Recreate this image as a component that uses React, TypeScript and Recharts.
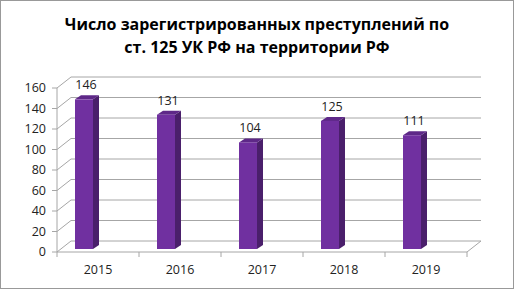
import React from 'react';
import { BarChart, Bar, XAxis, YAxis, CartesianGrid, LabelList } from 'recharts';

const years = ['2015', '2016', '2017', '2018', '2019'];
const crimes = [146, 131, 104, 125, 111];
const yTicks = [0, 20, 40, 60, 80, 100, 120, 140, 160];

const data = years.map((year, i) => ({ year, value: crimes[i] }));

const FONT = '"Open Sans", sans-serif';
const GRID = '#a6a6a6';
// 3d look: back wall offset and bar depth
const WALL_DX = 14;
const WALL_DY = -11;
const BAR_DX = 6;
const BAR_DY = -4;
const BAR_LIFT = 3;
const BAR_SHIFT = -14;

const GridLine = (props: any) => {
  const { x1, y1, x2, index } = props;
  const bx1 = x1 + WALL_DX;
  const bx2 = x2 + WALL_DX;
  const by = y1 + WALL_DY;
  return (
    <g key={`g-${index}`}>
      <line x1={x1} y1={y1} x2={bx1} y2={by} stroke={GRID} />
      <line x1={bx1} y1={by} x2={bx2} y2={by} stroke={GRID} />
      {index === 0 && <line x1={x2} y1={y1} x2={bx2} y2={by} stroke={GRID} />}
    </g>
  );
};

const Column3D = (props: any) => {
  const { x, y, width, height } = props;
  const l = x + BAR_SHIFT;
  const r = l + width;
  const t = y - BAR_LIFT;
  const b = t + height;
  return (
    <g>
      <polygon points={`${r},${t} ${r + BAR_DX},${t + BAR_DY} ${r + BAR_DX},${b + BAR_DY} ${r},${b}`} fill="#4a1f6b" />
      <polygon points={`${l},${t} ${l + BAR_DX},${t + BAR_DY} ${r + BAR_DX},${t + BAR_DY} ${r},${t}`} fill="#5e2888" />
      <rect x={l} y={t} width={width} height={height} fill="#7030a0" />
    </g>
  );
};

const YearTick = (props: any) => {
  const { x, y, payload, index } = props;
  const half = payload && payload.offset ? payload.offset : 41;
  return (
    <g>
      <line x1={x - half} y1={y} x2={x - half} y2={y + 5} stroke={GRID} />
      {index === years.length - 1 && <line x1={x + half} y1={y} x2={x + half} y2={y + 5} stroke={GRID} />}
      <text x={x} y={y + 22} textAnchor="middle" fontSize={12.5} fontFamily={FONT} fill="#222">
        {payload.value}
      </text>
    </g>
  );
};

const ValueLabel = (props: any) => {
  const { x, y, width, value } = props;
  return (
    <text x={x + BAR_SHIFT + width / 2 + 2} y={y - BAR_LIFT - 10} textAnchor="middle" fontSize={12.5} fontFamily={FONT} fill="#222">
      {value}
    </text>
  );
};

export default function App() {
  return (
    <div style={{ position: 'absolute', left: 0, top: 0, width: 514, height: 289, background: '#fff' }}>
      <div
        style={{
          position: 'absolute', left: 0, top: 0, width: 512, height: 287,
          border: '1px solid #999', boxSizing: 'content-box',
        }}
      />
      <div
        style={{
          position: 'absolute', left: 0, top: 13, width: 514, textAlign: 'center',
          fontFamily: FONT, fontWeight: 700, fontSize: 16, lineHeight: '23px', color: '#000',
        }}
      >
        Число зарегистрированных преступлений по
        <br />
        ст. 125 УК РФ на территории РФ
      </div>
      <div style={{ position: 'absolute', left: 0, top: 0 }}>
        <BarChart
          width={514}
          height={289}
          data={data}
          margin={{ top: 88, right: 47, left: 12, bottom: 7 }}
        >
          <CartesianGrid vertical={false} horizontal={GridLine} />
          <XAxis
            dataKey="year"
            height={30}
            tickLine={false}
            tickSize={0}
            tickMargin={0}
            axisLine={{ stroke: GRID }}
            tick={YearTick}
            interval={0}
          />
          <YAxis
            width={45}
            domain={[0, 160]}
            ticks={yTicks}
            interval={0}
            axisLine={{ stroke: GRID }}
            tickLine={{ stroke: GRID }}
            tickSize={5}
            tickMargin={6}
            tick={{ fontSize: 12.5, fontFamily: FONT, fill: '#222' }}
          />
          <Bar dataKey="value" barSize={18} shape={Column3D} isAnimationActive={false}>
            <LabelList dataKey="value" content={ValueLabel} />
          </Bar>
        </BarChart>
      </div>
    </div>
  );
}
